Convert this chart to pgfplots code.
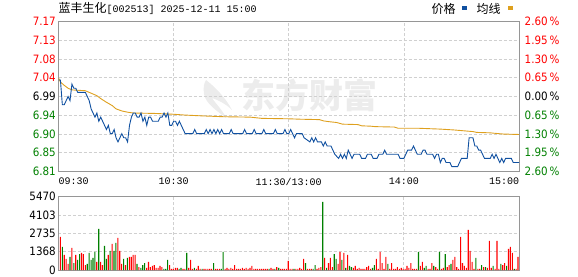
\documentclass[border=0pt]{standalone}
\usepackage{pgfplots}
\pgfplotsset{compat=1.18}
\usepackage{fontspec}
\setmainfont{DejaVu Sans}
\newfontfamily\numfont[FakeStretch=0.9]{DejaVu Sans}
\newfontfamily\cjk{Noto Sans CJK SC}
\newfontfamily\mono{Liberation Mono}
\definecolor{pblue}{RGB}{16,80,160}
\definecolor{avg}{RGB}{222,160,30}
\definecolor{upred}{RGB}{255,0,0}
\definecolor{dngreen}{RGB}{0,128,0}
\definecolor{framegray}{RGB}{150,150,150}
\definecolor{gridgray}{RGB}{208,208,208}
\definecolor{wm}{RGB}{236,236,236}

\pgfplotstableread{
k p
0 7.03
1 7.03
2 6.97
3 6.97
4 6.98
5 6.99
6 6.98
7 7.02
8 7.01
9 7.01
10 7.00
14 7.00
15 6.99
16 6.98
17 6.96
18 6.95
19 6.94
20 6.95
21 6.93
22 6.94
23 6.93
24 6.92
25 6.91
26 6.92
27 6.90
28 6.90
29 6.91
30 6.89
31 6.88
32 6.89
33 6.90
34 6.89
35 6.89
36 6.88
37 6.92
38 6.94
39 6.95
40 6.95
41 6.94
42 6.94
43 6.95
44 6.93
45 6.94
46 6.92
47 6.94
48 6.94
49 6.93
52 6.93
53 6.94
54 6.94
55 6.95
56 6.94
57 6.95
58 6.92
59 6.92
60 6.93
61 6.93
62 6.92
63 6.93
64 6.92
65 6.91
66 6.90
70 6.90
71 6.91
72 6.90
76 6.90
77 6.91
78 6.90
79 6.91
80 6.90
81 6.91
82 6.90
83 6.91
84 6.90
85 6.91
86 6.90
89 6.90
90 6.91
91 6.90
96 6.90
97 6.91
98 6.90
101 6.90
102 6.91
103 6.90
106 6.90
107 6.91
108 6.90
112 6.90
113 6.91
114 6.90
117 6.90
118 6.91
119 6.90
120 6.90
121 6.91
122 6.90
123 6.89
124 6.90
127 6.90
128 6.89
131 6.88
132 6.89
133 6.88
134 6.89
135 6.88
137 6.88
138 6.87
139 6.88
140 6.87
142 6.87
143 6.86
144 6.85
146 6.84
147 6.85
148 6.84
149 6.85
150 6.84
151 6.86
152 6.85
153 6.84
154 6.85
157 6.85
158 6.84
160 6.84
161 6.85
163 6.85
164 6.84
166 6.84
167 6.85
169 6.85
170 6.86
171 6.85
177 6.85
178 6.84
180 6.84
181 6.85
182 6.86
184 6.86
185 6.87
186 6.86
187 6.85
189 6.85
190 6.86
191 6.86
192 6.85
195 6.85
196 6.84
197 6.85
198 6.85
199 6.83
200 6.84
201 6.84
202 6.83
204 6.83
205 6.82
208 6.82
209 6.83
210 6.84
213 6.84
214 6.89
216 6.89
217 6.87
218 6.87
219 6.86
220 6.86
221 6.85
222 6.84
225 6.84
226 6.85
227 6.84
228 6.85
229 6.84
230 6.83
231 6.84
232 6.83
233 6.84
234 6.84
236 6.84
237 6.83
240 6.83
}\pricetab

\pgfplotstableread{
k a
0 7.035
1 7.025
3 7.017
5 7.010
7 7.006
14 7.004
17 6.998
20 6.992
22 6.985
25 6.976
28 6.968
30 6.960
33 6.955
36 6.952
39 6.950
50 6.949
60 6.947
66 6.945
75 6.943
86 6.941
100 6.940
106 6.937
120 6.936
126 6.935
136 6.934
138 6.931
141 6.929
145 6.927
148 6.923
156 6.922
158 6.919
163 6.918
165 6.917
175 6.916
177 6.913
188 6.913
199 6.911
206 6.909
211 6.907
216 6.905
218 6.903
225 6.902
227 6.901
232 6.899
240 6.898
}\avgtab

\pgfplotstableread{
k v
1 2460
3 1120
4 820
5 450
7 1640
9 1120
12 1270
13 1190
14 370
20 600
22 600
23 370
26 1120
28 1940
31 2390
32 1420
33 450
35 370
37 970
38 970
39 1120
40 1120
42 220
46 150
47 600
48 220
49 300
50 370
51 150
52 150
53 300
54 220
58 370
59 75
60 75
61 150
62 150
65 75
66 75
68 150
69 750
70 75
72 75
73 300
74 75
76 75
77 75
78 75
79 75
80 75
82 75
83 75
84 75
87 75
88 150
89 75
90 150
91 75
92 370
93 75
94 75
95 75
96 150
97 75
98 150
99 75
100 150
101 300
102 75
103 75
104 75
105 75
106 75
107 75
108 75
109 75
111 150
112 75
114 220
116 75
117 75
118 75
119 75
120 670
121 75
122 75
124 75
125 75
126 150
127 75
128 820
130 75
131 75
132 75
135 75
136 150
137 220
139 900
141 520
142 900
143 220
146 450
147 1340
149 1270
151 1120
154 150
155 300
156 75
157 150
158 75
159 75
160 75
161 220
162 300
163 75
166 820
167 75
168 1340
169 520
170 75
171 970
173 75
174 520
175 75
176 75
177 220
178 75
179 150
180 75
181 75
182 300
183 150
184 520
185 75
186 75
187 75
189 300
190 600
193 75
194 75
195 520
197 220
198 75
200 75
201 150
203 220
204 370
206 750
207 970
208 220
209 75
210 2460
211 520
212 300
213 150
214 2980
215 1420
216 600
217 75
219 75
220 75
222 220
224 150
225 2160
226 150
228 75
229 2160
230 75
232 370
233 520
235 1570
236 1715
237 1270
239 75
240 970
}\redtab

\pgfplotstableread{
k v
2 1715
6 970
8 520
10 750
11 1190
15 450
16 1270
17 750
18 900
19 1340
21 3060
24 1790
25 820
27 1420
29 1420
30 2010
34 820
36 900
41 450
43 150
44 370
45 520
55 75
56 75
57 750
63 75
64 150
67 1270
71 150
75 75
81 520
85 75
86 1340
110 75
113 75
115 150
123 75
129 520
133 75
134 370
138 5070
140 150
144 1190
145 820
148 750
150 150
152 300
153 220
164 150
165 370
172 450
188 1340
191 150
192 300
196 300
199 1340
202 1190
205 450
218 900
221 370
223 220
227 300
231 450
234 300
238 75
}\greentab

\begin{document}
\begin{tikzpicture}[x=1pt,y=1pt]
\path[use as bounding box] (0,0) rectangle (578,276);

% watermark
\node[wm, font=\cjk\fontsize{34}{34}\selectfont\bfseries, anchor=center] at (309,181) {东方财富};
\fill[wm] (206,196) .. controls (214,190) and (226,178) .. (232,166)
  .. controls (226,172) and (218,176) .. (212,178) .. controls (216,172) and (224,164) .. (226,158)
  .. controls (216,166) and (206,172) .. (204,182) .. controls (203,188) and (204,193) .. (206,196) -- cycle;

% title
\node[anchor=west, inner sep=0pt] at (58.5,267.5) {{\cjk\fontsize{12}{12}\selectfont 蓝丰生化}{\mono\fontsize{10}{10}\selectfont [002513] 2025-12-11 15:00}};
% legend
\node[anchor=west, inner sep=0pt] at (431.5,267.5) {\cjk\fontsize{12}{12}\selectfont 价格};
\fill[pblue] (462.3,266) rectangle (466.7,269.5);
\node[anchor=west, inner sep=0pt] at (476.5,267.5) {\cjk\fontsize{12}{12}\selectfont 均线};
\fill[avg] (508.3,266) rectangle (512.7,269.5);

% price panel
\begin{axis}[
  at={(58.5pt,104.5pt)}, anchor=south west,
  scale only axis, width=460.5pt, height=150pt,
  xmin=0, xmax=240, ymin=6.8083, ymax=7.1717,
  axis line style={framegray, line width=0.8pt},
  xtick={0,60,120,180,240},
  xticklabels={\rlap{09:30},10:30,11:30/13:00,14:00,\llap{15:00}},
  xticklabel style={font=\mono\fontsize{10}{10}\selectfont, inner sep=0pt, yshift=-6.5pt},
  ytick={6.8083,6.8537,6.8991,6.9446,6.99,7.0354,7.0809,7.1263,7.1717},
  yticklabels={\textcolor{dngreen}{6.81},\textcolor{dngreen}{6.85},\textcolor{dngreen}{6.90},\textcolor{dngreen}{6.94},\textcolor{black}{6.99},\textcolor{upred}{7.04},\textcolor{upred}{7.08},\textcolor{upred}{7.13},\textcolor{upred}{7.17}},
  yticklabel style={font=\numfont\fontsize{11.5}{12}\selectfont, inner sep=0pt, xshift=-2.5pt},
  grid=major,
  major grid style={gridgray, dash pattern=on 3pt off 2pt, line width=0.7pt},
  major tick length=0pt,
]
\addplot[avg, line width=0.9pt] table[x=k,y=a] {\avgtab};
\addplot[pblue, line width=0.9pt] table[x=k,y=p] {\pricetab};
\end{axis}

% right percent axis
\begin{axis}[
  at={(58.5pt,104.5pt)}, anchor=south west,
  scale only axis, width=460.5pt, height=150pt,
  xmin=0, xmax=240, ymin=6.8083, ymax=7.1717,
  hide x axis, axis y line*=right, axis line style={draw=none},
  ytick={6.8083,6.8537,6.8991,6.9446,6.99,7.0354,7.0809,7.1263,7.1717},
  yticklabels={\textcolor{dngreen}{2.60\,\%},\textcolor{dngreen}{1.95\,\%},\textcolor{dngreen}{1.30\,\%},\textcolor{dngreen}{0.65\,\%},\textcolor{black}{0.00\,\%},\textcolor{upred}{0.65\,\%},\textcolor{upred}{1.30\,\%},\textcolor{upred}{1.95\,\%},\textcolor{upred}{2.60\,\%}},
  yticklabel style={font=\numfont\fontsize{11.5}{12}\selectfont, inner sep=0pt, anchor=west, xshift=5.5pt},
  major tick length=0pt,
]
\end{axis}

% volume panel
\begin{axis}[
  at={(58.5pt,6pt)}, anchor=south west,
  scale only axis, width=460.5pt, height=73.5pt,
  xmin=0, xmax=240.5, ymin=0, ymax=5470,
  axis line style={framegray, line width=0.8pt},
  xtick={60,120,180}, xticklabels={},
  ytick={0,1368,2735,4103,5470},
  yticklabels={0,1368,2735,4103,5470},
  yticklabel style={font=\numfont\fontsize{11.5}{12}\selectfont, inner sep=0pt, xshift=-2.5pt},
  grid=major,
  major grid style={gridgray, dash pattern=on 3pt off 2pt, line width=0.7pt},
  major tick length=0pt,
]
\addplot[ybar, bar shift=0pt, bar width=1.1pt, fill=upred, draw=none] table[x=k,y=v] {\redtab};
\addplot[ybar, bar shift=0pt, bar width=1.1pt, fill=dngreen, draw=none] table[x=k,y=v] {\greentab};
\end{axis}
\end{tikzpicture}
\end{document}
